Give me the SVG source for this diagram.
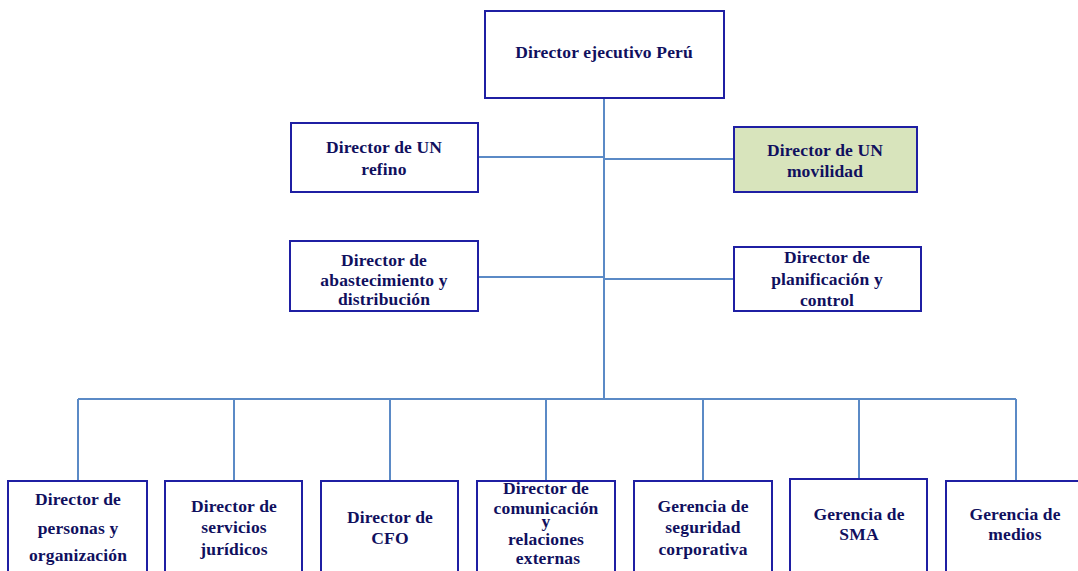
<svg xmlns="http://www.w3.org/2000/svg" width="1078" height="571" viewBox="0 0 1078 571">
  <style>
    .box { fill: #ffffff; stroke: #1f1fa3; stroke-width: 2; }
    .hl { fill: #d8e4bc; }
    .lbl { font-family: "Liberation Serif", "Times New Roman", serif; font-weight: bold; font-size: 17.5px; letter-spacing: 0.15px; fill: #10105e; text-anchor: middle; }
    .conn { fill: none; stroke: #5b8ac6; stroke-width: 2; }
  </style>
  <rect width="1078" height="571" fill="#ffffff"/>

  <!-- connectors -->
  <g id="connectors" class="conn">
    <path d="M604 98 V399"/>
    <path d="M478 157 H604"/>
    <path d="M604 159 H734"/>
    <path d="M478 277 H604"/>
    <path d="M604 279 H734"/>
    <path d="M78 399 H1016"/>
    <path d="M78 399 V481"/>
    <path d="M234 399 V481"/>
    <path d="M390 399 V481"/>
    <path d="M546 399 V481"/>
    <path d="M703 399 V481"/>
    <path d="M859 399 V479"/>
    <path d="M1016 399 V481"/>
  </g>

  <g id="n-ceo">
    <rect class="box" x="485" y="11" width="239" height="87"/>
    <text class="lbl" x="604" y="58">Director ejecutivo Perú</text>
  </g>

  <g id="n-refino">
    <rect class="box" x="291" y="123" width="187" height="69"/>
    <text class="lbl" x="384" y="153">Director de UN</text>
    <text class="lbl" x="384" y="175">refino</text>
  </g>

  <g id="n-movilidad">
    <rect class="box hl" x="734" y="127" width="183" height="65"/>
    <text class="lbl" x="825" y="156">Director de UN</text>
    <text class="lbl" x="825" y="177">movilidad</text>
  </g>

  <g id="n-abastecimiento">
    <rect class="box" x="290" y="241" width="188" height="70"/>
    <text class="lbl" x="384" y="266">Director de</text>
    <text class="lbl" x="384" y="286">abastecimiento y</text>
    <text class="lbl" x="384" y="305">distribución</text>
  </g>

  <g id="n-planificacion">
    <rect class="box" x="734" y="247" width="187" height="64"/>
    <text class="lbl" x="827" y="263">Director de</text>
    <text class="lbl" x="827" y="285">planificación y</text>
    <text class="lbl" x="827" y="306">control</text>
  </g>

  <g id="n-personas">
    <rect class="box" x="8" y="481" width="139" height="100"/>
    <text class="lbl" x="78" y="505">Director de</text>
    <text class="lbl" x="78" y="534">personas y</text>
    <text class="lbl" x="78" y="561">organización</text>
  </g>

  <g id="n-juridicos">
    <rect class="box" x="165" y="481" width="137" height="100"/>
    <text class="lbl" x="234" y="512">Director de</text>
    <text class="lbl" x="234" y="533">servicios</text>
    <text class="lbl" x="234" y="555">jurídicos</text>
  </g>

  <g id="n-cfo">
    <rect class="box" x="321" y="481" width="137" height="100"/>
    <text class="lbl" x="390" y="523">Director de</text>
    <text class="lbl" x="390" y="544">CFO</text>
  </g>

  <g id="n-comunicacion">
    <rect class="box" x="477" y="481" width="138" height="100"/>
    <text class="lbl" x="546" y="494">Director de</text>
    <text class="lbl" x="546" y="514">comunicación</text>
    <text class="lbl" x="546" y="527">y</text>
    <text class="lbl" x="546" y="545">relaciones</text>
    <text class="lbl" x="548" y="564">externas</text>
  </g>

  <g id="n-seguridad">
    <rect class="box" x="634" y="481" width="138" height="100"/>
    <text class="lbl" x="703" y="512">Gerencia de</text>
    <text class="lbl" x="703" y="533">seguridad</text>
    <text class="lbl" x="703" y="555">corporativa</text>
  </g>

  <g id="n-sma">
    <rect class="box" x="790" y="479" width="137" height="100"/>
    <text class="lbl" x="859" y="520">Gerencia de</text>
    <text class="lbl" x="859" y="540">SMA</text>
  </g>

  <g id="n-medios">
    <rect class="box" x="946" y="481" width="140" height="100"/>
    <text class="lbl" x="1015" y="520">Gerencia de</text>
    <text class="lbl" x="1015" y="540">medios</text>
  </g>
</svg>
